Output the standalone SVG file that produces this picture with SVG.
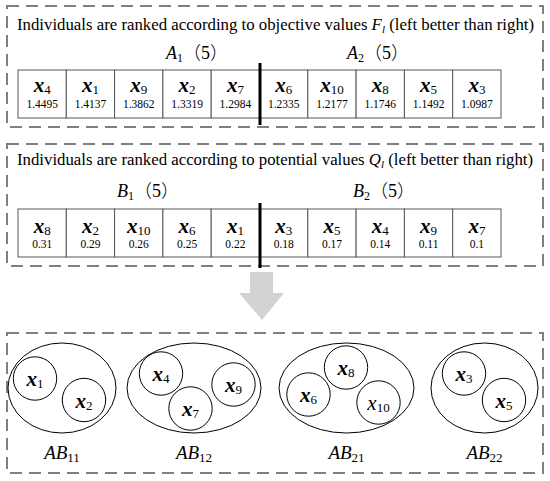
<svg xmlns="http://www.w3.org/2000/svg" width="550" height="481" viewBox="0 0 550 481">
<style>
.box{fill:none;stroke:#808080;stroke-width:2;stroke-dasharray:12 7}
.cell{fill:#fff;stroke:#595959;stroke-width:1}
.div{stroke:#000;stroke-width:3}
.t{font-family:"Liberation Serif","Times New Roman",serif;fill:#000}
.title{font-size:16.8px}
.xl{font-size:21px;font-weight:bold;font-style:italic;text-anchor:middle}
.xn{font-weight:normal}
.sub{font-size:13px;font-weight:normal;font-style:normal}
.val{font-size:11.5px;text-anchor:middle}
.grp{font-size:18px}
.cjk{font-family:"Noto Sans CJK SC","Liberation Serif",serif;font-weight:300}
.ell{fill:none;stroke:#000;stroke-width:1}
.ab{font-size:19px;font-style:italic;text-anchor:middle}
</style>
<g id="panel-objective">
<rect class="box" x="7" y="6" width="536" height="121"/>
<text class="t title" x="17" y="30">Individuals are ranked according to objective values <tspan font-style="italic">F</tspan><tspan font-style="italic" font-size="11" dy="3">l</tspan><tspan dy="-3"> (left better than right)</tspan></text>
<text class="t grp" x="166" y="59"><tspan font-style="italic">A</tspan><tspan font-size="12" dy="3">1</tspan><tspan dy="-3" class="cjk">（</tspan>5<tspan class="cjk">）</tspan></text>
<text class="t grp" x="347" y="59"><tspan font-style="italic">A</tspan><tspan font-size="12" dy="3">2</tspan><tspan dy="-3" class="cjk">（</tspan>5<tspan class="cjk">）</tspan></text>
</g>
<g id="table-A">
<rect class="cell" x="18" y="70" width="48.3" height="48"/>
<rect class="cell" x="66.3" y="70" width="48.3" height="48"/>
<rect class="cell" x="114.6" y="70" width="48.3" height="48"/>
<rect class="cell" x="162.9" y="70" width="48.3" height="48"/>
<rect class="cell" x="211.2" y="70" width="48.3" height="48"/>
<rect class="cell" x="259.5" y="70" width="48.3" height="48"/>
<rect class="cell" x="307.8" y="70" width="48.3" height="48"/>
<rect class="cell" x="356.1" y="70" width="48.3" height="48"/>
<rect class="cell" x="404.4" y="70" width="48.3" height="48"/>
<rect class="cell" x="452.7" y="70" width="48.3" height="48"/>
<text class="t xl" x="42.2" y="92">x<tspan class="sub" dy="2">4</tspan></text>
<text class="t xl" x="90.5" y="92">x<tspan class="sub" dy="2">1</tspan></text>
<text class="t xl" x="138.8" y="92">x<tspan class="sub" dy="2">9</tspan></text>
<text class="t xl" x="187.1" y="92">x<tspan class="sub" dy="2">2</tspan></text>
<text class="t xl" x="235.4" y="92">x<tspan class="sub" dy="2">7</tspan></text>
<text class="t xl" x="283.7" y="92">x<tspan class="sub" dy="2">6</tspan></text>
<text class="t xl" x="332" y="92">x<tspan class="sub" dy="2">10</tspan></text>
<text class="t xl" x="380.3" y="92">x<tspan class="sub" dy="2">8</tspan></text>
<text class="t xl" x="428.6" y="92">x<tspan class="sub" dy="2">5</tspan></text>
<text class="t xl" x="476.9" y="92">x<tspan class="sub" dy="2">3</tspan></text>
<text class="t val" x="42.2" y="108">1.4495</text>
<text class="t val" x="90.5" y="108">1.4137</text>
<text class="t val" x="138.8" y="108">1.3862</text>
<text class="t val" x="187.1" y="108">1.3319</text>
<text class="t val" x="235.4" y="108">1.2984</text>
<text class="t val" x="283.7" y="108">1.2335</text>
<text class="t val" x="332" y="108">1.2177</text>
<text class="t val" x="380.3" y="108">1.1746</text>
<text class="t val" x="428.6" y="108">1.1492</text>
<text class="t val" x="476.9" y="108">1.0987</text>
<line class="div" x1="260" y1="63" x2="260" y2="125"/>
</g>
<g id="panel-potential">
<rect class="box" x="7" y="144" width="536" height="122"/>
<text class="t title" x="17" y="165">Individuals are ranked according to potential values <tspan font-style="italic">Q</tspan><tspan font-style="italic" font-size="11" dy="3">l</tspan><tspan dy="-3"> (left better than right)</tspan></text>
<text class="t grp" x="117" y="197"><tspan font-style="italic">B</tspan><tspan font-size="12" dy="3">1</tspan><tspan dy="-3" class="cjk">（</tspan>5<tspan class="cjk">）</tspan></text>
<text class="t grp" x="353" y="197"><tspan font-style="italic">B</tspan><tspan font-size="12" dy="3">2</tspan><tspan dy="-3" class="cjk">（</tspan>5<tspan class="cjk">）</tspan></text>
</g>
<g id="table-B">
<rect class="cell" x="18" y="209" width="48.3" height="48"/>
<rect class="cell" x="66.3" y="209" width="48.3" height="48"/>
<rect class="cell" x="114.6" y="209" width="48.3" height="48"/>
<rect class="cell" x="162.9" y="209" width="48.3" height="48"/>
<rect class="cell" x="211.2" y="209" width="48.3" height="48"/>
<rect class="cell" x="259.5" y="209" width="48.3" height="48"/>
<rect class="cell" x="307.8" y="209" width="48.3" height="48"/>
<rect class="cell" x="356.1" y="209" width="48.3" height="48"/>
<rect class="cell" x="404.4" y="209" width="48.3" height="48"/>
<rect class="cell" x="452.7" y="209" width="48.3" height="48"/>
<text class="t xl" x="42.2" y="233">x<tspan class="sub" dy="2">8</tspan></text>
<text class="t xl" x="90.5" y="233">x<tspan class="sub" dy="2">2</tspan></text>
<text class="t xl" x="138.8" y="233">x<tspan class="sub" dy="2">10</tspan></text>
<text class="t xl" x="187.1" y="233">x<tspan class="sub" dy="2">6</tspan></text>
<text class="t xl" x="235.4" y="233">x<tspan class="sub" dy="2">1</tspan></text>
<text class="t xl" x="283.7" y="233">x<tspan class="sub" dy="2">3</tspan></text>
<text class="t xl" x="332" y="233">x<tspan class="sub" dy="2">5</tspan></text>
<text class="t xl" x="380.3" y="233">x<tspan class="sub" dy="2">4</tspan></text>
<text class="t xl" x="428.6" y="233">x<tspan class="sub" dy="2">9</tspan></text>
<text class="t xl" x="476.9" y="233">x<tspan class="sub" dy="2">7</tspan></text>
<text class="t val" x="42.2" y="248">0.31</text>
<text class="t val" x="90.5" y="248">0.29</text>
<text class="t val" x="138.8" y="248">0.26</text>
<text class="t val" x="187.1" y="248">0.25</text>
<text class="t val" x="235.4" y="248">0.22</text>
<text class="t val" x="283.7" y="248">0.18</text>
<text class="t val" x="332" y="248">0.17</text>
<text class="t val" x="380.3" y="248">0.14</text>
<text class="t val" x="428.6" y="248">0.11</text>
<text class="t val" x="476.9" y="248">0.1</text>
<line class="div" x1="260" y1="203" x2="260" y2="268"/>
</g>
<g id="connectors">
<polygon points="250,272 273,272 273,293 284,293 262,320 239,293 250,293" fill="#d3d3d3"/>
</g>
<g id="panel-groups">
<rect class="box" x="7" y="333" width="536" height="140"/>
</g>
<g id="AB11">
<ellipse class="ell" cx="62" cy="388" rx="54" ry="45"/>
<circle class="ell" cx="35" cy="378.5" r="21.7"/>
<circle class="ell" cx="84" cy="400" r="21.7"/>
<text class="t xl" x="35" y="386">x<tspan class="sub" dy="2">1</tspan></text>
<text class="t xl" x="84" y="408">x<tspan class="sub" dy="2">2</tspan></text>
<text class="t ab" x="62" y="459">AB<tspan font-size="13" font-style="normal" dy="3">11</tspan></text>
</g>
<g id="AB12">
<ellipse class="ell" cx="194" cy="388" rx="67" ry="45"/>
<circle class="ell" cx="161" cy="373.5" r="21.7"/>
<circle class="ell" cx="190.5" cy="408.5" r="21.7"/>
<circle class="ell" cx="233.5" cy="384.5" r="21.7"/>
<text class="t xl" x="161" y="381">x<tspan class="sub" dy="2">4</tspan></text>
<text class="t xl" x="190.5" y="416">x<tspan class="sub" dy="2">7</tspan></text>
<text class="t xl" x="233.5" y="392">x<tspan class="sub" dy="2">9</tspan></text>
<text class="t ab" x="194" y="459">AB<tspan font-size="13" font-style="normal" dy="3">12</tspan></text>
</g>
<g id="AB21">
<ellipse class="ell" cx="346.5" cy="388" rx="67.5" ry="45"/>
<circle class="ell" cx="346" cy="367.5" r="21.7"/>
<circle class="ell" cx="308.5" cy="394.5" r="21.7"/>
<circle class="ell" cx="378.5" cy="402.5" r="21.7"/>
<text class="t xl" x="346" y="375">x<tspan class="sub" dy="2">8</tspan></text>
<text class="t xl" x="308.5" y="402">x<tspan class="sub" dy="2">6</tspan></text>
<text class="t xl xn" x="378.5" y="410">x<tspan class="sub" dy="2">10</tspan></text>
<text class="t ab" x="346.5" y="459">AB<tspan font-size="13" font-style="normal" dy="3">21</tspan></text>
</g>
<g id="AB22">
<ellipse class="ell" cx="484.5" cy="388" rx="53.5" ry="45"/>
<circle class="ell" cx="464" cy="373.5" r="21.7"/>
<circle class="ell" cx="504" cy="400" r="21.7"/>
<text class="t xl" x="464" y="381">x<tspan class="sub" dy="2">3</tspan></text>
<text class="t xl" x="504" y="408">x<tspan class="sub" dy="2">5</tspan></text>
<text class="t ab" x="484.5" y="459">AB<tspan font-size="13" font-style="normal" dy="3">22</tspan></text>
</g>
</svg>
